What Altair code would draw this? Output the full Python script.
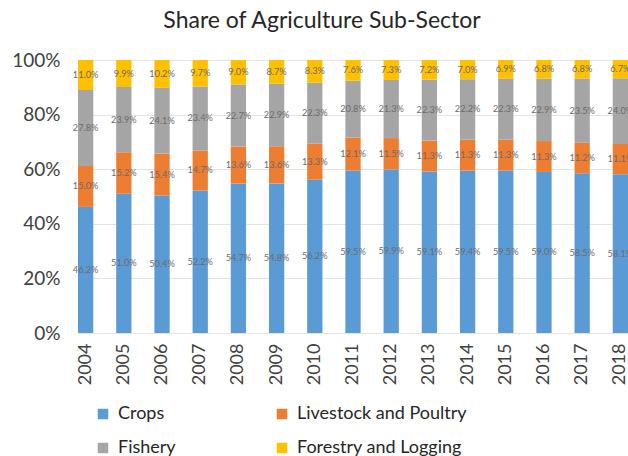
import altair as alt
import pandas as pd

years = [str(y) for y in range(2004, 2019)]
crops = [46.2, 51.0, 50.4, 52.2, 54.7, 54.8, 56.2, 59.5, 59.9, 59.1, 59.4, 59.5, 59.0, 58.5, 58.1]
livestock = [15.0, 15.2, 15.4, 14.7, 13.6, 13.6, 13.3, 12.1, 11.5, 11.3, 11.3, 11.3, 11.3, 11.2, 11.1]
fishery = [27.8, 23.9, 24.1, 23.4, 22.7, 22.9, 22.3, 20.8, 21.3, 22.3, 22.2, 22.3, 22.9, 23.5, 24.0]
forestry = [11.0, 9.9, 10.2, 9.7, 9.0, 8.7, 8.3, 7.6, 7.3, 7.2, 7.0, 6.9, 6.8, 6.8, 6.7]

series = ["Crops", "Livestock and Poultry", "Fishery", "Forestry and Logging"]
colors = ["#5B9BD5", "#ED7D31", "#A5A5A5", "#FFC000"]
values = [crops, livestock, fishery, forestry]
# legend grid fills column by column
legend_order = ["Crops", "Fishery", "Livestock and Poultry", "Forestry and Logging"]

rows = []
for si, (name, vals) in enumerate(zip(series, values)):
    for y, v in zip(years, vals):
        rows.append({"year": y, "series": name, "ord": si, "value": v})
df = pd.DataFrame(rows)

FONT = "Lato"

base = alt.Chart(df).transform_stack(
    stack="value", groupby=["year"], as_=["v0", "v1"],
    sort=[alt.SortField("ord", order="ascending")], offset="normalize"
).transform_calculate(
    mid="(datum.v0 + datum.v1) / 2",
    label="format(datum.value, '.1f') + '%'"
)

x_enc = alt.X("year:N", title=None,
              scale=alt.Scale(paddingInner=0.6, paddingOuter=0.0),
              axis=alt.Axis(labelAngle=270, labelFontSize=18, labelColor="#404040",
                            labelFont=FONT, ticks=False, domain=False, labelPadding=10,
                            labelOverlap=False))

bars = base.mark_bar().encode(
    x=x_enc,
    y=alt.Y("v0:Q", title=None,
            scale=alt.Scale(domain=[0, 1], nice=False),
            axis=alt.Axis(format=".0%", values=[i / 10 for i in range(11)],
                          labelFontSize=19, labelColor="#404040", labelFont=FONT,
                          ticks=False, domain=False, gridColor="#E3E3E3",
                          labelPadding=18, labelOverlap=False)),
    y2="v1:Q",
    color=alt.Color("series:N", scale=alt.Scale(domain=series, range=colors),
                    legend=alt.Legend(title=None, orient="none", legendX=16, legendY=345,
                                      values=legend_order,
                                      columns=2, columnPadding=97, rowPadding=16,
                                      symbolType="square", symbolSize=110,
                                      symbolStrokeWidth=0, symbolOpacity=1,
                                      labelFontSize=18, labelFont=FONT,
                                      labelColor="#262626", labelOffset=6,
                                      labelLimit=300)),
    order=alt.Order("ord:Q")
)

texts = base.mark_text(fontSize=9.2, color="#6b6b6b", font=FONT).encode(
    x=alt.X("year:N"),
    y=alt.Y("mid:Q"),
    text="label:N"
)

chart = alt.layer(bars, texts).properties(
    width=550, height=273,
    title=alt.TitleParams("Share of Agriculture Sub-Sector", fontSize=23,
                          fontWeight="normal", font=FONT, color="#262626",
                          anchor="middle", dx=-31, offset=18),
    padding={"left": 78, "top": 60, "right": 0, "bottom": 123},
    autosize=alt.AutoSizeParams(type="none")
).configure_view(stroke=None)

chart.save("out.html", embed_options={"renderer": "svg", "actions": False})
